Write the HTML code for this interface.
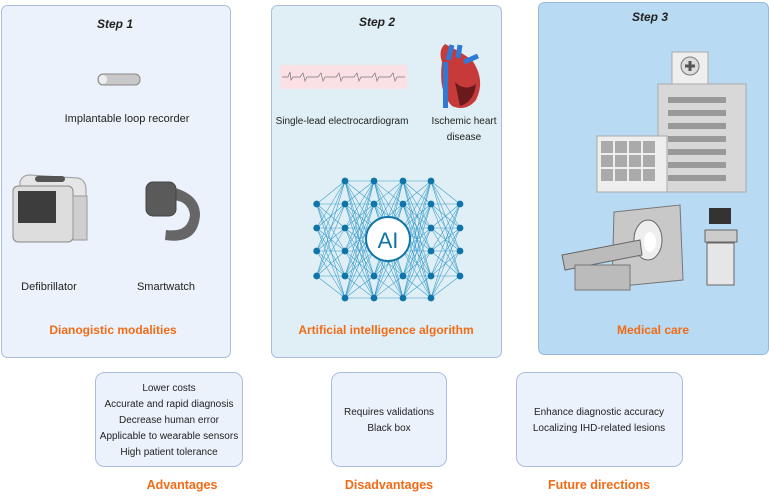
<!DOCTYPE html>
<html><head><meta charset="utf-8"><style>
body{margin:0;width:769px;height:497px;background:#fff;overflow:hidden}
svg text{font-family:"Liberation Sans",sans-serif}
</style></head><body>
<svg width="769" height="497" viewBox="0 0 769 497" xmlns="http://www.w3.org/2000/svg">
<rect x="1.5" y="5.5" width="229" height="352" rx="6" fill="#ebf2fb" stroke="#a9bde0"/>
<rect x="271.5" y="5.5" width="230" height="352" rx="6" fill="#dfeff5" stroke="#a9bde0"/>
<rect x="538.5" y="2.5" width="230" height="352" rx="6" fill="#b8daf2" stroke="#96b8dc"/>
<g font-size="12" font-weight="bold" font-style="italic" fill="#222" text-anchor="middle">
<text x="115" y="28">Step 1</text><text x="377" y="26">Step 2</text><text x="650" y="21">Step 3</text></g>
<rect x="98" y="74" width="42" height="11" rx="5" fill="#c9c9c9" stroke="#888"/>
<rect x="99" y="75" width="8" height="9" rx="4" fill="#eee"/>
<text x="127" y="122" font-size="11" text-anchor="middle" fill="#222">Implantable loop recorder</text>
<g>
<path d="M20 182 Q22 175 30 175 L78 178 Q86 180 86 190 L86 240 L20 240 Z" fill="#e6e6e6" stroke="#999"/>
<rect x="13" y="186" width="60" height="56" rx="5" fill="#ddd" stroke="#888"/>
<rect x="18" y="191" width="38" height="32" fill="#3d3d3d"/>
<rect x="73" y="196" width="14" height="44" fill="#cfcfcf" stroke="#999"/>
<rect x="35" y="176" width="30" height="6" rx="3" fill="#555"/>
</g>
<g>
<path d="M160 185 Q200 190 200 215 Q198 245 165 240 L166 230 Q188 233 190 215 Q188 198 165 200Z" fill="#666"/>
<rect x="146" y="182" width="30" height="34" rx="7" fill="#5a5a5a" stroke="#444"/>
</g>
<text x="49" y="290" font-size="11" text-anchor="middle" fill="#222">Defibrillator</text>
<text x="166" y="290" font-size="11" text-anchor="middle" fill="#222">Smartwatch</text>
<text x="113" y="334" font-size="12" font-weight="bold" text-anchor="middle" fill="#f26b16">Dianogistic modalities</text>
<rect x="280" y="65" width="127" height="24" fill="#fbe0e6"/>
<path d="M282 77 L288 77 L290 72 L291 80 L293 77 L300 77 L303 73 L305 81 L307 77 L318 77 L321 73 L323 81 L325 77 L336 77 L339 73 L341 81 L343 77 L354 77 L357 73 L359 81 L361 77 L372 77 L375 73 L377 81 L379 77 L390 77 L393 73 L395 81 L397 77 L405 77" fill="none" stroke="#777" stroke-width="0.7"/>
<text x="342" y="124" font-size="10" text-anchor="middle" fill="#222">Single-lead electrocardiogram</text>
<path d="M442 62 Q438 50 445 44 L460 52 L472 60 Q486 80 476 100 Q466 112 452 106 Q438 92 442 62Z" fill="#c73a3a"/>
<rect x="443" y="62" width="5" height="46" fill="#2f7ad6"/>
<path d="M448 60 L452 45 M458 58 L460 45 M464 62 L478 56" stroke="#2f7ad6" stroke-width="5"/>
<path d="M455 82 Q465 92 476 84 Q474 102 460 106Z" fill="#6a1a1a"/>
<text x="464" y="124" font-size="10" text-anchor="middle" fill="#222">Ischemic heart</text>
<text x="464" y="140" font-size="10" text-anchor="middle" fill="#222">disease</text>
<g id="nn" stroke="#3a9ccc" stroke-width="0.55" fill="none"></g>
<g id="nodes" fill="#0f74a8"></g>
<circle cx="388" cy="239" r="22" fill="#fff" stroke="#0f74a8" stroke-width="2"/>
<text x="388" y="248" font-size="22" text-anchor="middle" fill="#0f74a8">AI</text>
<text x="386" y="334" font-size="12" font-weight="bold" text-anchor="middle" fill="#f26b16">Artificial intelligence algorithm</text>
<rect x="672" y="52" width="36" height="32" fill="#eee" stroke="#aaa"/>
<circle cx="690" cy="66" r="9" fill="#ddd" stroke="#777"/>
<path d="M690 61 V71 M685 66 H695" stroke="#555" stroke-width="3"/>
<rect x="658" y="84" width="88" height="108" fill="#d8d8d8" stroke="#aaa"/>
<g fill="#999"><rect x="668" y="97" width="58" height="6"/><rect x="668" y="110" width="58" height="6"/><rect x="668" y="123" width="58" height="6"/><rect x="668" y="136" width="58" height="6"/><rect x="668" y="149" width="58" height="6"/><rect x="668" y="162" width="58" height="6"/><rect x="668" y="175" width="58" height="6"/></g>
<rect x="597" y="136" width="70" height="56" fill="#eee" stroke="#aaa"/>
<g fill="#aaa"><rect x="601" y="141" width="12" height="12"/><rect x="615" y="141" width="12" height="12"/><rect x="629" y="141" width="12" height="12"/><rect x="643" y="141" width="12" height="12"/><rect x="601" y="155" width="12" height="12"/><rect x="615" y="155" width="12" height="12"/><rect x="629" y="155" width="12" height="12"/><rect x="643" y="155" width="12" height="12"/><rect x="601" y="169" width="12" height="12"/><rect x="615" y="169" width="12" height="12"/><rect x="629" y="169" width="12" height="12"/><rect x="643" y="169" width="12" height="12"/></g>
<path d="M614 212 L680 205 L683 280 L612 287Z" fill="#c8c8c8" stroke="#777"/>
<ellipse cx="648" cy="240" rx="14" ry="20" fill="#eee" stroke="#666"/>
<ellipse cx="650" cy="242" rx="6" ry="10" fill="#fff"/>
<path d="M562 255 L640 240 L642 255 L565 270Z" fill="#bbb" stroke="#666"/>
<rect x="575" y="265" width="55" height="25" fill="#bbb" stroke="#777"/>
<rect x="709" y="208" width="22" height="16" fill="#333"/>
<rect x="705" y="230" width="32" height="12" fill="#ccc" stroke="#666"/>
<rect x="707" y="243" width="27" height="42" fill="#e6e6e6" stroke="#666"/>
<text x="653" y="334" font-size="12" font-weight="bold" text-anchor="middle" fill="#f26b16">Medical care</text>
<rect x="95.5" y="372.5" width="147" height="94" rx="9" fill="#ebf2fb" stroke="#a9bde0"/>
<rect x="331.5" y="372.5" width="115" height="94" rx="9" fill="#ebf2fb" stroke="#a9bde0"/>
<rect x="516.5" y="372.5" width="166" height="94" rx="9" fill="#ebf2fb" stroke="#a9bde0"/>
<g font-size="10" text-anchor="middle" fill="#222">
<text x="169" y="391">Lower costs</text><text x="169" y="407">Accurate and rapid diagnosis</text><text x="169" y="423">Decrease human error</text><text x="169" y="439">Applicable to wearable sensors</text><text x="169" y="455">High patient tolerance</text>
<text x="389" y="415">Requires validations</text><text x="389" y="431">Black box</text>
<text x="599" y="415">Enhance diagnostic accuracy</text><text x="599" y="431">Localizing IHD-related lesions</text>
</g>
<g font-size="12.5" font-weight="bold" text-anchor="middle" fill="#f26b16">
<text x="182" y="489">Advantages</text><text x="389" y="489">Disadvantages</text><text x="599" y="489">Future directions</text></g>
</svg>
<script>
var xs=[316.7,345,374,403,431,460];
var outer=[204,228,251,276], inner=[181,204,228,251,276,298];
var cols=xs.map(function(x,i){return (i==0||i==5?outer:inner).map(function(y){return [x,y];});});
var ns="http://www.w3.org/2000/svg",g=document.getElementById('nn'),n=document.getElementById('nodes');
for(var i=0;i<5;i++)cols[i].forEach(function(a){cols[i+1].forEach(function(b){var l=document.createElementNS(ns,'line');l.setAttribute('x1',a[0]);l.setAttribute('y1',a[1]);l.setAttribute('x2',b[0]);l.setAttribute('y2',b[1]);g.appendChild(l);});});
cols.forEach(function(c){c.forEach(function(p){var e=document.createElementNS(ns,'circle');e.setAttribute('cx',p[0]);e.setAttribute('cy',p[1]);e.setAttribute('r',3.4);n.appendChild(e);});});
</script>
</body></html>
